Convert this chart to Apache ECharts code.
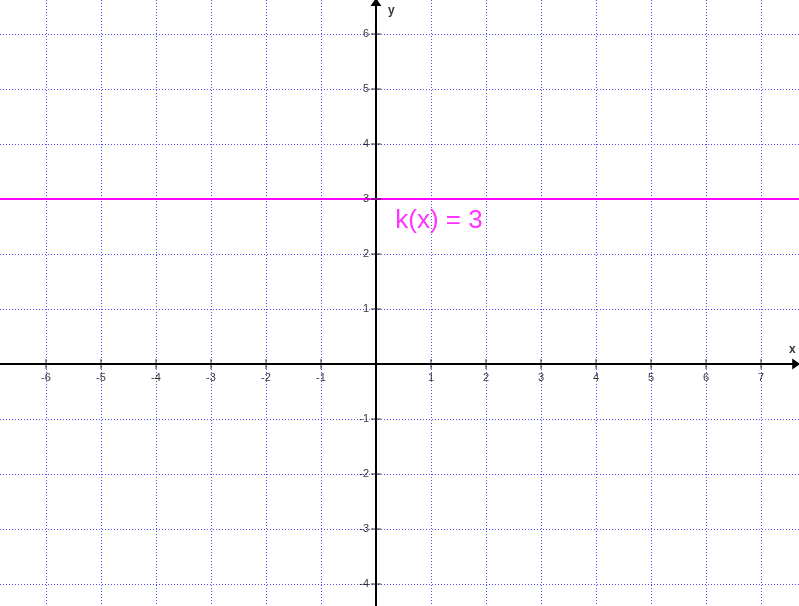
<!DOCTYPE html>
<html>
<head>
<meta charset="utf-8">
<script src="https://cdn.jsdelivr.net/npm/echarts@6/dist/echarts.min.js"></script>
<style>html,body{margin:0;padding:0;background:#fff}#c{width:799px;height:606px}</style>
</head>
<body>
<div id="c"></div>
<script>
// Data
const xRange = [-7, 8];
const yRange = [-5, 7];
const xTickVals = [-6, -5, -4, -3, -2, -1, 1, 2, 3, 4, 5, 6, 7];
const yTickVals = [-4, -3, -2, -1, 1, 2, 3, 4, 5, 6];
const kValue = 3;
const kLine = [[-7, kValue], [8, kValue]];
const kLabel = 'k(x) = 3';
const kLabelPos = [0.35, 2.6];
const xNamePos = [7.57, 0.26];
const yNamePos = [0.28, 6.43];
const xArrow = [[7.4, 0], [7.64, 0]];
const yArrow = [[0, 6.3], [0, 6.58]];

const chart = echarts.init(document.getElementById('c'), null, {renderer: 'canvas'});
const font = 'Liberation Sans, Arial, sans-serif';
const gridColor = '#5050ff';
const gridLine = {show: true, lineStyle: {color: gridColor, type: [1, 2], width: 1, opacity: 1}};

chart.setOption({
  animation: false,
  backgroundColor: '#fff',
  grid: {left: -9, top: -21, width: 825, height: 660, containLabel: false, outerBoundsMode: 'none'},
  xAxis: {
    type: 'value', min: xRange[0], max: xRange[1], interval: 1,
    axisLine: {show: true, onZero: true, lineStyle: {color: '#000', width: 2}},
    axisTick: {show: false}, axisLabel: {show: false},
    splitLine: gridLine
  },
  yAxis: {
    type: 'value', min: yRange[0], max: yRange[1], interval: 1,
    axisLine: {show: true, onZero: true, lineStyle: {color: '#000', width: 2}},
    axisTick: {show: false}, axisLabel: {show: false},
    splitLine: gridLine
  },
  series: [
    {
      name: 'k', type: 'line', data: kLine, showSymbol: false, z: 3,
      lineStyle: {color: '#ff00ff', width: 2}, silent: true
    },
    {
      name: 'xTicks', type: 'scatter', symbol: 'rect', symbolSize: [1, 10], z: 4, silent: true,
      itemStyle: {color: '#000'},
      label: {show: true, position: 'bottom', distance: 3, formatter: p => String(p.value[0]),
        color: '#000', fontSize: 11, fontFamily: font},
      data: xTickVals.map(v => [v, 0])
    },
    {
      name: 'yTicks', type: 'scatter', symbol: 'rect', symbolSize: [10, 1], z: 4, silent: true,
      itemStyle: {color: '#000'},
      label: {show: true, position: 'left', distance: 2, formatter: p => String(p.value[1]),
        color: '#000', fontSize: 11, fontFamily: font},
      data: yTickVals.map(v => [0, v])
    },
    {
      type: 'scatter', symbolSize: 0, z: 4, silent: true,
      data: [{value: kLabelPos, label: {show: true, formatter: kLabel, position: 'right', distance: 0,
        color: '#ff00ff', fontSize: 26, fontFamily: font}}]
    },
    {
      type: 'scatter', symbolSize: 0, z: 4, silent: true,
      label: {show: true, position: 'inside', color: '#000', fontSize: 12, fontWeight: 'bold', fontFamily: font},
      data: [
        {value: xNamePos, label: {formatter: 'x'}},
        {value: yNamePos, label: {formatter: 'y'}}
      ]
    },
    {
      type: 'line', data: [], z: 5, silent: true,
      markLine: {
        silent: true, animation: false,
        symbol: ['none', 'triangle'], symbolSize: [11, 8],
        label: {show: false},
        lineStyle: {color: '#000', width: 2, type: 'solid'},
        itemStyle: {color: '#000'},
        data: [
          [{coord: xArrow[0]}, {coord: xArrow[1]}],
          [{coord: yArrow[0]}, {coord: yArrow[1]}]
        ]
      }
    }
  ]
});
</script>
</body>
</html>
